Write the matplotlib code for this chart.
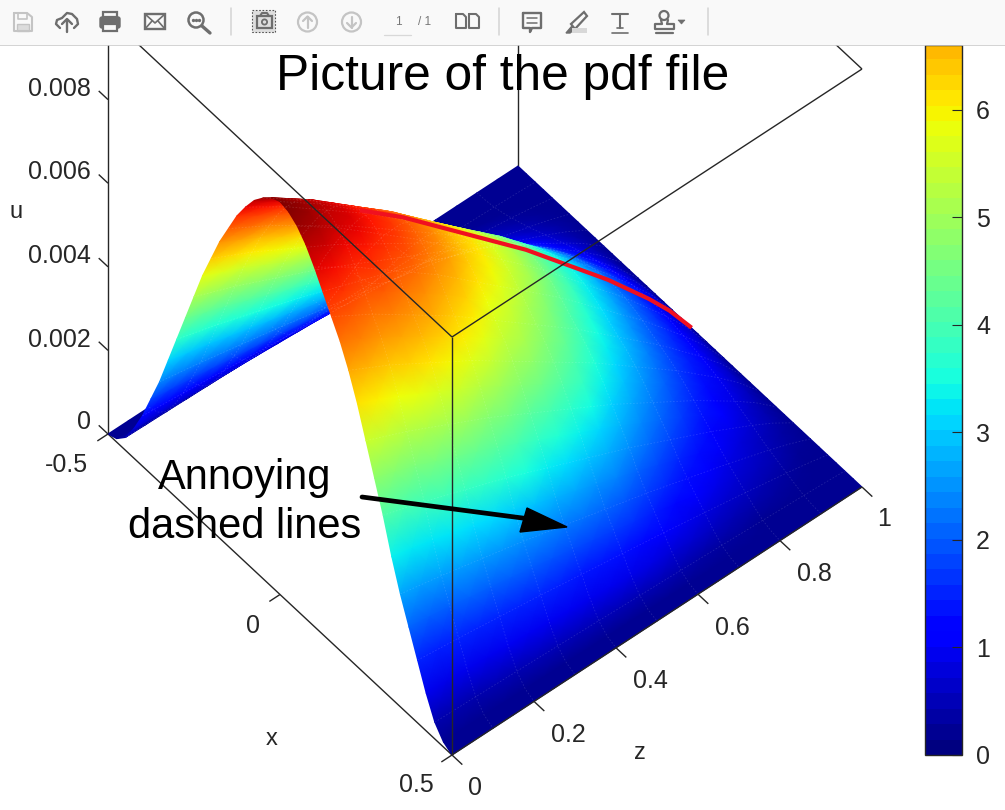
import numpy as np
import matplotlib
matplotlib.use('Agg')
import matplotlib.pyplot as plt
from matplotlib.cm import ScalarMappable
from matplotlib.colors import Normalize
from matplotlib.patches import Rectangle, Circle, Polygon, FancyBboxPatch

plt.rcParams['font.family'] = ['Liberation Sans', 'DejaVu Sans']

# ---- data ----
x_stations = [-0.5, -0.475, -0.45, -0.425, -0.4, -0.375, -0.35, -0.325, -0.3, -0.275, -0.25,
              -0.225, -0.2, -0.175, -0.15, -0.125, -0.1, -0.075, -0.05, -0.025, 0.0,
              0.025, 0.05, 0.075, 0.1, 0.125, 0.15, 0.175, 0.2, 0.225, 0.25,
              0.275, 0.3, 0.325, 0.35, 0.375, 0.4, 0.425, 0.45, 0.475, 0.5]
u_inlet = [0.0, 0.00008, 0.0003, 0.0007, 0.0012, 0.0018, 0.0024, 0.0031, 0.0038, 0.0045, 0.0052,
           0.0059, 0.0065, 0.0071, 0.0076, 0.0081, 0.0085, 0.00885, 0.0091, 0.0093, 0.0094,
           0.00935, 0.0092, 0.00895, 0.0086, 0.0082, 0.0078, 0.0074, 0.0069, 0.0063, 0.0056,
           0.0049, 0.0042, 0.0034, 0.0027, 0.0021, 0.0015, 0.0009, 0.0004, 0.00012, 0.0]
z_stations = [0.0, 0.05, 0.1, 0.15, 0.2, 0.25, 0.3, 0.35, 0.4, 0.45, 0.5,
              0.55, 0.6, 0.65, 0.7, 0.75, 0.8, 0.85, 0.9, 0.95, 1.0]
u_ridge = [0.0094, 0.00905, 0.0087, 0.0083, 0.0079, 0.0075, 0.0071, 0.00665, 0.0062, 0.00575, 0.0053,
           0.00485, 0.0044, 0.0039, 0.0034, 0.0029, 0.0024, 0.00185, 0.0013, 0.0007, 0.0]
colour_ridge = [9.2, 9.0, 8.7, 8.5, 8.2, 7.9, 7.5, 7.1, 6.6, 6.2, 5.7,
                5.2, 4.6, 4.0, 3.4, 2.8, 2.2, 1.7, 1.2, 0.7, 0.2]
colour_width = [1.0, 1.0, 0.98, 0.96, 0.94, 0.92, 0.9, 0.88, 0.86, 0.84, 0.82,
                0.8, 0.8, 0.8, 0.8, 0.8, 0.8, 0.8, 0.8, 0.8, 0.8]
x_ticks = [-0.5, 0.0, 0.5]
x_ticklabels = ['-0.5', '0', '0.5']
z_ticks = [0.0, 0.2, 0.4, 0.6, 0.8, 1.0]
z_ticklabels = ['0', '0.2', '0.4', '0.6', '0.8', '1']
u_ticks = [0.0, 0.002, 0.004, 0.006, 0.008]
u_ticklabels = ['0', '0.002', '0.004', '0.006', '0.008']
cbar_ticks = [0, 1, 2, 3, 4, 5, 6]
color_max = 9.2
color_visible = 6.6
u_top = 0.01

# ---- orthographic view of the 3-D box, in figure pixels ----
X0, Y0 = 452.0, 755.0     # x=0.5, z=0, u=0


def project(x, z, u):
    x, z, u = np.asarray(x, float), np.asarray(z, float), np.asarray(u, float)
    return (X0 + (x - 0.5) * 344.0 + z * 410.0,
            Y0 + (x - 0.5) * 321.0 - z * 268.0 - u * 41800.0)


fig = plt.figure(figsize=(10.05, 8.10), dpi=100, facecolor='white')
ax = fig.add_axes([0, 0, 1, 1])
ax.set_xlim(0, 1005)
ax.set_ylim(810, 0)
ax.axis('off')

xs = np.array(x_stations)
zs = np.array(z_stations)
profile = np.array(u_inlet) / max(u_inlet)
U = np.outer(profile, u_ridge)
C = np.maximum(profile[:, None] ** np.array(colour_width)[None, :] * np.array(colour_ridge), 0.15)
norm = Normalize(0, color_max)
jet = plt.get_cmap('jet', 64)
jet_smooth = plt.get_cmap('jet')

EDGE = '#262626'


def line(x, z, u, **kw):
    px, py = project(x, z, u)
    kw.setdefault('color', EDGE)
    kw.setdefault('lw', 1.0)
    ax.plot(px, py, solid_capstyle='butt', **kw)


# floor edges and axis lines behind the surface
line([-0.5, -0.5], [0, 0], [0, u_top], zorder=1)
line([-0.5, -0.5], [1, 1], [0, u_top], zorder=1)
line([-0.5, 0.5], [0, 0], [0, 0], zorder=1)
line([-0.5, 0.5], [1, 1], [u_top, u_top], zorder=1)

# surface, painted from the far side to the near side
for i in range(len(xs) - 1):
    Z2, X2 = np.meshgrid(zs[::-1], xs[i:i + 2])
    px, py = project(X2, Z2, U[i:i + 2, ::-1])
    ax.pcolormesh(px, py, C[i:i + 2, ::-1], shading='gouraud', cmap=jet_smooth,
                  norm=norm, zorder=2)

# faint mesh lines on the surface
for zv, col in zip(zs[2:-1:2], U[:, 2:-1:2].T):
    line(xs, np.full_like(xs, zv), col, color='white', lw=0.6, alpha=0.13, ls=(0, (2, 2)), zorder=3)
for xv, row in zip(xs[2:-1:2], U[2:-1:2]):
    line(np.full_like(zs, xv), zs, row, color='white', lw=0.6, alpha=0.13, ls=(0, (2, 2)), zorder=3)

# ridge line
px, py = project(np.zeros_like(zs), zs, np.array(u_ridge))
mask = zs >= 0.2
ax.plot(px[mask], py[mask], color='#f01020', lw=3.0, zorder=4)

# box lines in front of the surface
line([0.5, 0.5], [0, 0], [0, u_top], zorder=5)
line([-0.5, 0.5], [0, 0], [u_top, u_top], zorder=5)
line([0.5, 0.5], [0, 1], [u_top, u_top], zorder=5)
line([0.5, 0.5], [0, 1], [0, 0], zorder=5)

# tick marks and tick labels
for t in x_ticks:
    line([t, t], [0, -0.026], [0, 0], zorder=5)
for t in z_ticks:
    line([0.5, 0.53], [t, t], [0, 0], zorder=5)
for t in u_ticks:
    line([-0.5, -0.527], [0, 0], [t, t], zorder=5)

TICK = 18
TC = '#262626'
for t, lab, (tx, ty) in zip(u_ticks, u_ticklabels,
                            [(91, 422), (91, 340), (91, 256), (91, 172), (91, 89)]):
    ax.text(tx, ty, lab, ha='right', va='center', fontsize=TICK, color=TC, zorder=6)
for lab, (tx, ty) in zip(x_ticklabels, [(66, 465), (253, 626), (416, 785)]):
    ax.text(tx, ty, lab, ha='center', va='center', fontsize=TICK, color=TC, zorder=6)
for lab, (tx, ty) in zip(z_ticklabels, [(475, 788), (568, 735), (650, 681), (732, 628), (814, 574), (884, 519)]):
    ax.text(tx, ty, lab, ha='center', va='center', fontsize=TICK, color=TC, zorder=6)
ax.text(16, 212, 'u', ha='center', va='center', fontsize=TICK - 1, color=TC, zorder=6)
ax.text(272, 739, 'x', ha='center', va='center', fontsize=TICK - 1, color=TC, zorder=6)
ax.text(640, 753, 'z', ha='center', va='center', fontsize=TICK - 1, color=TC, zorder=6)

# annotations
ax.text(503, 77, 'Picture of the pdf file', ha='center', va='center', fontsize=35.7, color='black', zorder=7)
ax.text(245, 478, 'Annoying', ha='center', va='center', fontsize=30, color='black', zorder=7)
ax.text(245, 527, 'dashed lines', ha='center', va='center', fontsize=30, color='black', zorder=7)
ax.plot([362, 530], [497, 519], color='black', lw=3.4, zorder=7, solid_capstyle='round')
ax.add_patch(Polygon([[567, 527], [520, 532], [527, 508]], closed=True, fc='black', ec='black', zorder=7))

# colour bar
cax = fig.add_axes([925 / 1005, 1 - 755 / 810, 37 / 1005, 710 / 810])
cb = fig.colorbar(ScalarMappable(norm=norm, cmap=jet), cax=cax, ticks=cbar_ticks)
cax.set_ylim(0, color_visible)
cb.outline.set_edgecolor(EDGE)
cb.outline.set_linewidth(1.0)
cax.tick_params(direction='in', length=7.5, width=0.8, color=EDGE, labelsize=TICK, labelcolor=TC, pad=10)
cax.set_zorder(3)

# ---- viewer toolbar in front of everything ----
tb = fig.add_axes([0, 1 - 46 / 810, 1, 46 / 810], zorder=20)
tb.set_xlim(0, 1005)
tb.set_ylim(46, 0)
tb.axis('off')
tb.add_patch(Rectangle((0, 0), 1005, 45, fc='#f9f9f9', ec='none'))
tb.plot([0, 1005], [45.5, 45.5], color='#cccccc', lw=1.2)
G = '#6e6e6e'
L = '#c4c4c4'


def pl(xs_, ys_, c=G, lw=1.6, **kw):
    tb.plot(xs_, ys_, color=c, lw=lw, solid_capstyle='round', solid_joinstyle='round', **kw)


# save
pl([14, 27, 32, 32, 14, 14], [13, 13, 17, 31, 31, 13], L, 1.5)
pl([18, 18, 27, 27], [13, 19, 19, 13], L, 1.2)
tb.add_patch(Rectangle((17, 24), 12, 7, fc='#dcdcdc', ec=L, lw=1))
# cloud upload
pl([60, 56, 57, 62, 67, 72, 77, 78, 74], [28, 24, 20, 18, 13, 14, 19, 24, 28], G, 1.7)
pl([67, 67], [20, 32], G, 1.7)
pl([62, 67, 72], [24, 19, 24], G, 1.7)
# print
tb.add_patch(FancyBboxPatch((100, 17), 20, 11, boxstyle='round,pad=0,rounding_size=2', fc=G, ec=G))
tb.add_patch(Rectangle((103, 12), 14, 5, fc='#f9f9f9', ec=G, lw=1.6))
tb.add_patch(Rectangle((103, 24), 14, 7, fc='#f9f9f9', ec=G, lw=1.6))
# mail
tb.add_patch(Rectangle((145, 14), 20, 15, fc='none', ec=G, lw=1.7))
pl([145, 155, 165], [14, 23, 14], G, 1.2)
pl([145, 152], [29, 21], G, 1.2)
pl([165, 158], [29, 21], G, 1.2)
# search
tb.add_patch(Circle((196, 20), 7.5, fc='none', ec=G, lw=1.8))
pl([202, 210], [26, 33], G, 2.4)
tb.plot([193, 196, 199], [20, 20, 20], ls='none', marker='o', ms=1.4, color=G)
# separators
for sx in [231, 499, 708]:
    pl([sx, sx], [8, 35], '#d4d4d4', 1.1)
# snapshot
tb.add_patch(Rectangle((252, 10), 23, 22, fc='#dedede', ec='#555555', lw=0.8, ls=(0, (1.5, 1.5))))
tb.add_patch(Rectangle((257, 16), 15, 12, fc='none', ec=G, lw=1.6))
pl([260, 262, 267, 269], [16, 13, 13, 16], G, 1.5)
tb.add_patch(Circle((264.5, 22), 2.6, fc='none', ec=G, lw=1.3))
# page up and page down
for cx, sgn in [(307.5, 1), (351.5, -1)]:
    tb.add_patch(Circle((cx, 22), 9.5, fc='none', ec=L, lw=1.6))
    pl([cx, cx], [22 - 5.5 * sgn, 22 + 5.5 * sgn], L, 1.6)
    pl([cx - 4.5, cx, cx + 4.5], [22 - 1 * sgn, 22 - 5.5 * sgn, 22 - 1 * sgn], L, 1.6)
# page number
tb.text(398, 22, '1', ha='center', va='center', fontsize=8.5, color='#777777')
tb.text(418, 22, '/ 1', ha='left', va='center', fontsize=8.5, color='#777777')
pl([384, 411], [35, 35], '#d8d8d8', 0.9)
# two pages
for ox in [456, 469]:
    pl([ox, ox + 7, ox + 10, ox + 10, ox, ox], [14, 14, 17, 28, 28, 14], G, 1.5)
# comment
pl([523, 541, 541, 532, 530, 530, 523, 523], [13, 13, 28, 28, 32, 28, 28, 13], G, 1.7)
pl([527, 537], [18, 18], G, 1.1)
pl([527, 537], [23, 23], G, 1.1)
# highlight
tb.add_patch(Polygon([[571, 24], [584, 12], [587, 16], [575, 29]], closed=True, fc='none', ec=G, lw=1.6))
tb.add_patch(Polygon([[566, 33], [572, 26], [575, 29], [570, 33]], closed=True, fc=G, ec=G))
tb.add_patch(Rectangle((572, 28), 15, 5, fc='#d8d8d8', ec='none'))
# text
pl([612, 628], [14, 14], G, 1.5)
pl([620, 620], [14, 28], G, 1.5)
pl([617, 623], [28, 28], G, 1.2)
pl([612, 628], [32.5, 32.5], G, 1.2)
# stamp
tb.add_patch(Circle((664, 15.5), 4.5, fc='none', ec=G, lw=1.6))
pl([661, 662, 655, 655, 674, 674, 667, 668], [20, 24, 24, 29, 29, 24, 24, 20], G, 1.6)
pl([656, 673], [32.5, 32.5], G, 1.6)
tb.add_patch(Polygon([[678, 20], [685, 20], [681.5, 24]], closed=True, fc=G, ec=G, lw=0.5))

fig.savefig('out.png', dpi=100)
